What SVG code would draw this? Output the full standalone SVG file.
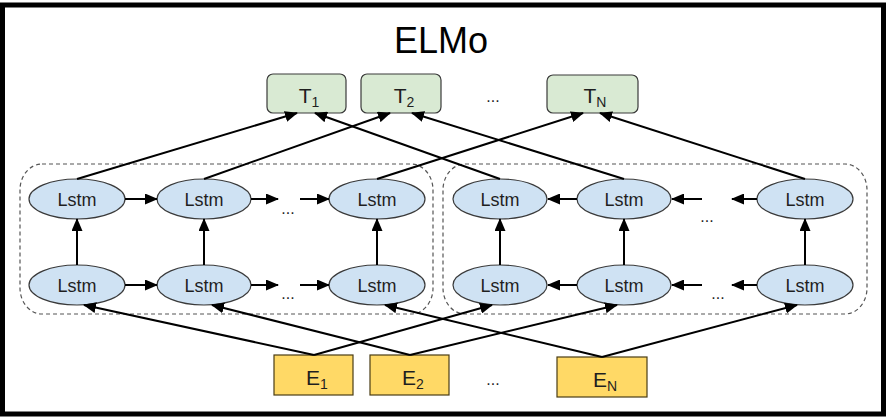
<svg xmlns="http://www.w3.org/2000/svg" width="889" height="419" viewBox="0 0 889 419">
<defs>
<marker id="ah" markerUnits="userSpaceOnUse" markerWidth="13" markerHeight="11" viewBox="0 0 13 11" refX="12" refY="5.5" orient="auto"><path d="M0,0 L13,5.5 L0,11 z" fill="#000"/></marker>
<style>
.lstm{fill:#cfe2f3;stroke:#3a3a3a;stroke-width:1.2}
.t{fill:#d9ead3;stroke:#3a3a3a;stroke-width:1.2}
.e{fill:#ffd966;stroke:#4a3c14;stroke-width:1.2}
.lbl{font-family:"Liberation Sans",Arial,sans-serif;font-size:18px;fill:#1f1f1f;text-anchor:middle}
.big{font-family:"Liberation Sans",Arial,sans-serif;font-size:21px;fill:#1f1f1f;text-anchor:middle}
.dots{font-family:"Liberation Sans",Arial,sans-serif;font-size:16px;fill:#1f1f1f;text-anchor:middle}
.box{fill:none;stroke:#555;stroke-width:1.2;stroke-dasharray:4 3}
.c line{stroke:#000;stroke-width:2;marker-end:url(#ah)}
</style>
</defs>
<rect x="0" y="0" width="889" height="419" fill="#fff"/>
<rect x="2.5" y="5" width="881" height="409" fill="none" stroke="#000" stroke-width="5"/>
<text x="441" y="53" font-family="Liberation Sans,Arial,sans-serif" font-size="36" fill="#000" text-anchor="middle">ELMo</text>

<g id="group-forward"><rect class="box" x="20" y="164" width="413" height="150" rx="22" ry="26"/></g>
<g id="group-backward"><rect class="box" x="443" y="164" width="424" height="150" rx="22" ry="26"/></g>

<g id="T1"><rect class="t" x="267" y="74" width="79" height="39" rx="6"/><text class="big" x="309" y="103">T<tspan font-size="14" dy="4">1</tspan></text></g>
<g id="T2"><rect class="t" x="361" y="74" width="80" height="39" rx="6"/><text class="big" x="404" y="103">T<tspan font-size="14" dy="4">2</tspan></text></g>
<g id="TN"><rect class="t" x="547" y="75" width="91" height="38" rx="6"/><text class="big" x="595" y="103">T<tspan font-size="14" dy="4">N</tspan></text></g>
<text class="dots" x="493" y="102">...</text>

<g id="E1"><rect class="e" x="274" y="355" width="79" height="40"/><text class="big" x="317" y="385">E<tspan font-size="14" dy="4">1</tspan></text></g>
<g id="E2"><rect class="e" x="370" y="355" width="79" height="40"/><text class="big" x="413" y="385">E<tspan font-size="14" dy="4">2</tspan></text></g>
<g id="EN"><rect class="e" x="557" y="357" width="90" height="40"/><text class="big" x="605" y="387">E<tspan font-size="14" dy="4">N</tspan></text></g>
<text class="dots" x="493" y="385">...</text>

<g id="LF1t"><ellipse class="lstm" cx="77" cy="199" rx="48" ry="20"/><text class="lbl" x="77" y="206">Lstm</text></g>
<g id="LF2t"><ellipse class="lstm" cx="204" cy="199" rx="47" ry="20"/><text class="lbl" x="204" y="206">Lstm</text></g>
<g id="LF3t"><ellipse class="lstm" cx="377" cy="199" rx="48" ry="20"/><text class="lbl" x="377" y="206">Lstm</text></g>
<g id="LF1b"><ellipse class="lstm" cx="77" cy="285" rx="48" ry="20"/><text class="lbl" x="77" y="292">Lstm</text></g>
<g id="LF2b"><ellipse class="lstm" cx="204" cy="285" rx="47" ry="20"/><text class="lbl" x="204" y="292">Lstm</text></g>
<g id="LF3b"><ellipse class="lstm" cx="377" cy="285" rx="48" ry="20"/><text class="lbl" x="377" y="292">Lstm</text></g>
<g id="LB1t"><ellipse class="lstm" cx="500" cy="199" rx="47" ry="20"/><text class="lbl" x="500" y="206">Lstm</text></g>
<g id="LB2t"><ellipse class="lstm" cx="624" cy="199" rx="47" ry="20"/><text class="lbl" x="624" y="206">Lstm</text></g>
<g id="LB3t"><ellipse class="lstm" cx="805" cy="199" rx="48" ry="20"/><text class="lbl" x="805" y="206">Lstm</text></g>
<g id="LB1b"><ellipse class="lstm" cx="500" cy="285" rx="47" ry="20"/><text class="lbl" x="500" y="292">Lstm</text></g>
<g id="LB2b"><ellipse class="lstm" cx="624" cy="285" rx="47" ry="20"/><text class="lbl" x="624" y="292">Lstm</text></g>
<g id="LB3b"><ellipse class="lstm" cx="805" cy="285" rx="48" ry="20"/><text class="lbl" x="805" y="292">Lstm</text></g>

<text class="dots" x="288" y="214">...</text>
<text class="dots" x="288" y="299">...</text>
<text class="dots" x="707" y="222">...</text>
<text class="dots" x="718" y="299">...</text>

<g id="connectors" class="c">
<line x1="77" y1="179" x2="297" y2="113"/>
<line x1="204" y1="179" x2="390" y2="113"/>
<line x1="377" y1="179" x2="583" y2="113"/>
<line x1="500" y1="179" x2="315" y2="113"/>
<line x1="624" y1="179" x2="412" y2="113"/>
<line x1="805" y1="179" x2="600" y2="113"/>

<line x1="125" y1="199" x2="157" y2="199"/>
<line x1="251" y1="199" x2="278" y2="199"/>
<line x1="300" y1="199" x2="329" y2="199"/>
<line x1="125" y1="285" x2="157" y2="285"/>
<line x1="251" y1="285" x2="278" y2="285"/>
<line x1="300" y1="285" x2="329" y2="285"/>
<line x1="577" y1="199" x2="548" y2="199"/>
<line x1="702" y1="199" x2="672" y2="199"/>
<line x1="757" y1="199" x2="732" y2="199"/>
<line x1="577" y1="285" x2="548" y2="285"/>
<line x1="702" y1="285" x2="672" y2="285"/>
<line x1="757" y1="285" x2="732" y2="285"/>

<line x1="77" y1="265" x2="77" y2="219"/>
<line x1="204" y1="265" x2="204" y2="219"/>
<line x1="377" y1="265" x2="377" y2="219"/>
<line x1="500" y1="265" x2="500" y2="219"/>
<line x1="624" y1="265" x2="624" y2="219"/>
<line x1="805" y1="265" x2="805" y2="219"/>

<line x1="314" y1="355" x2="84" y2="305"/>
<line x1="314" y1="355" x2="492" y2="305"/>
<line x1="410" y1="355" x2="212" y2="305"/>
<line x1="410" y1="355" x2="617" y2="305"/>
<line x1="602" y1="357" x2="385" y2="305"/>
<line x1="602" y1="357" x2="797" y2="305"/>
</g>
</svg>
